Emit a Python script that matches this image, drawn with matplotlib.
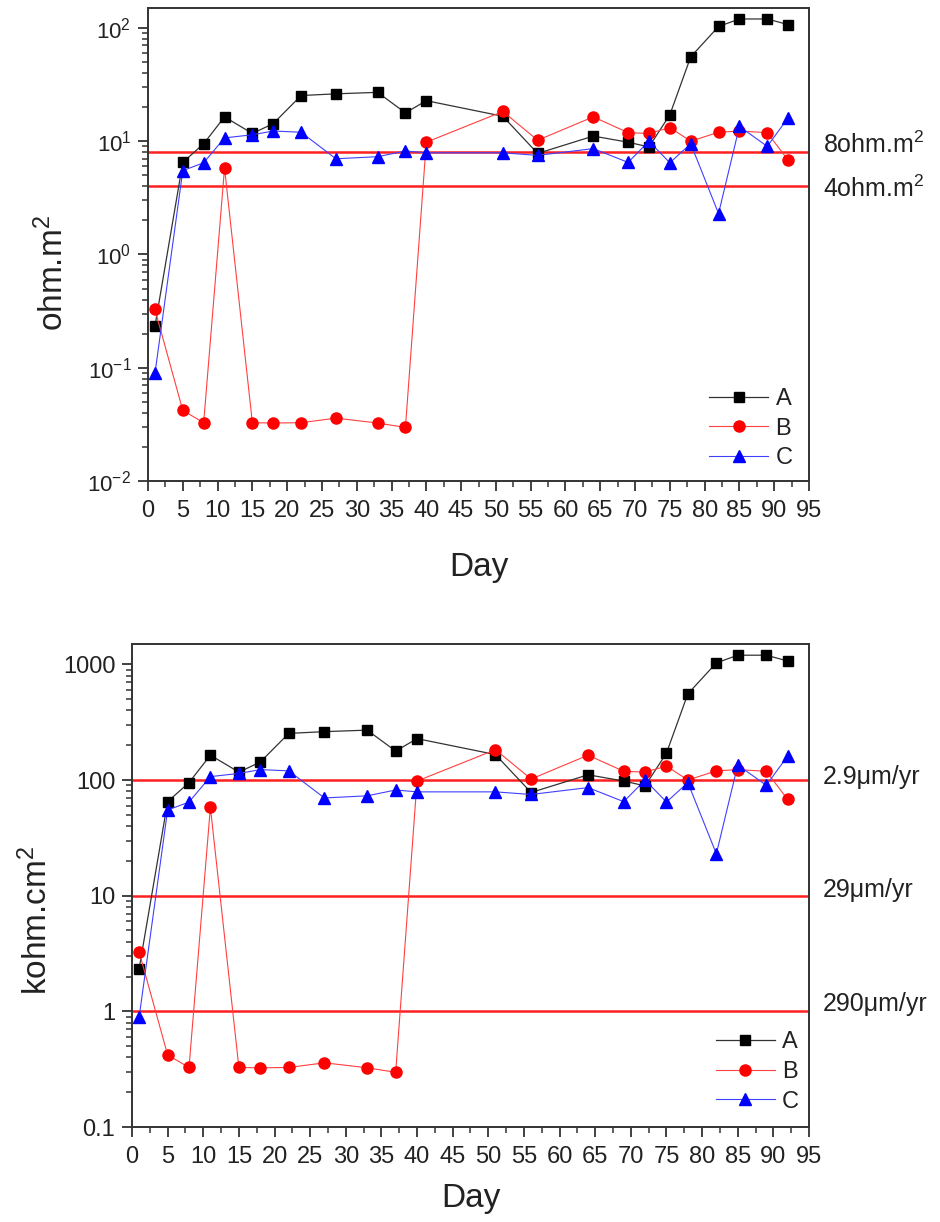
import matplotlib
matplotlib.use('Agg')
import matplotlib.pyplot as plt
from matplotlib.ticker import (LogLocator, MultipleLocator, FuncFormatter,
                               LogFormatterMathtext, NullFormatter)

plt.rcParams['font.family'] = ['Liberation Sans', 'DejaVu Sans']
plt.rcParams['mathtext.fontset'] = 'custom'
plt.rcParams['mathtext.rm'] = 'Liberation Sans'
plt.rcParams['mathtext.it'] = 'Liberation Sans:italic'
plt.rcParams['mathtext.bf'] = 'Liberation Sans:bold'
plt.rcParams['mathtext.default'] = 'regular'

# ---------------- data ----------------
days = [1, 5, 8, 11, 15, 18, 22, 27, 33, 37, 40, 51, 56, 64, 69, 72, 75, 78, 82, 85, 89, 92]

# top panel: ohm.m^2
top_A = [0.233, 6.5, 9.5, 16.4, 11.7, 14.3, 25.3, 26.2, 27.0, 17.8, 22.8,
         16.6, 7.8, 11.1, 9.8, 8.9, 17.1, 55.6, 103, 120, 120, 107]
top_B = [0.327, 0.042, 0.0327, 5.8, 0.0327, 0.0325, 0.0327, 0.0359, 0.0325, 0.0297, 9.8,
         18.3, 10.2, 16.4, 11.9, 11.7, 13.2, 10.0, 12.0, 12.3, 11.9, 6.8]
top_C = [0.089, 5.5, 6.45, 10.7, 11.4, 12.3, 12.0, 7.0, 7.3, 8.2, 7.9,
         7.9, 7.5, 8.6, 6.5, 10.0, 6.45, 9.5, 2.3, 13.5, 9.0, 16.1]
top_refs = [8, 4]
top_ref_labels = ['8ohm.m$^2$', '4ohm.m$^2$']

# bottom panel: kohm.cm^2
bot_A = [2.33, 65, 95, 164, 117, 143, 253, 262, 270, 178, 228,
         166, 78, 111, 98, 89, 171, 556, 1030, 1200, 1200, 1070]
bot_B = [3.27, 0.42, 0.327, 58, 0.327, 0.325, 0.327, 0.359, 0.325, 0.297, 98,
         183, 102, 164, 119, 117, 132, 100, 120, 123, 119, 68]
bot_C = [0.89, 55, 64.5, 107, 114, 123, 120, 70, 73, 82, 79,
         79, 75, 86, 65, 100, 64.5, 95, 23, 135, 90, 161]
bot_refs = [100, 10, 1]
bot_ref_labels = ['2.9\u03bcm/yr', '29\u03bcm/yr', '290\u03bcm/yr']

series_names = ['A', 'B', 'C']
x_ticks = list(range(0, 100, 5))

# ---------------- figure ----------------
fig = plt.figure(figsize=(9.4, 12.22), dpi=100)
ax1 = fig.add_axes([148/940, 1-481/1222, 661/940, 473/1222])
ax2 = fig.add_axes([132/940, 1-1127/1222, 677/940, 483/1222])

spine_col = '#333333'


def draw(ax, A, B, C, ylim, refs, ref_labels, ref_offsets, ylab, ylab_xy,
         xlab_y, leg_anchor, yfmt, ytick_size):
    ax.set_yscale('log')
    ax.plot(days, A, color='#333333', lw=0.9, marker='s', ms=7.2,
            mfc='black', mec='black', label=series_names[0], zorder=3)
    ax.plot(days, B, color='#ff4040', lw=0.8, marker='o', ms=8,
            mfc='#ff0000', mec='#ff0000', label=series_names[1], zorder=4)
    ax.plot(days, C, color='#4040ff', lw=0.8, marker='^', ms=8.5,
            mfc='#0000ff', mec='#0000ff', label=series_names[2], zorder=5)
    for v, lab, off in zip(refs, ref_labels, ref_offsets):
        ax.axhline(v, color='#ff2020', lw=1.8, zorder=2)
        ax.annotate(lab, xy=(1.0, v), xycoords=ax.get_yaxis_transform(),
                    xytext=(10, off), textcoords='offset points',
                    va='center', ha='left', fontsize=18, color='#222222',
                    annotation_clip=False)
    ax.set_xlim(0, 95)
    ax.set_ylim(*ylim)
    ax.xaxis.set_major_locator(MultipleLocator(5))
    ax.xaxis.set_minor_locator(MultipleLocator(2.5))
    ax.set_xticks(x_ticks)
    ax.yaxis.set_major_locator(LogLocator(base=10, numticks=20))
    ax.yaxis.set_minor_locator(LogLocator(base=10, subs=range(2, 10), numticks=50))
    ax.yaxis.set_minor_formatter(NullFormatter())
    ax.yaxis.set_major_formatter(yfmt)
    ax.tick_params(axis='both', which='major', direction='out', length=7,
                   width=1.3, color=spine_col, top=False, right=False)
    ax.tick_params(axis='both', which='minor', direction='out', length=4,
                   width=1.1, color=spine_col, top=False, right=False)
    ax.tick_params(axis='x', which='major', labelsize=17, pad=7, labelcolor='#222222')
    ax.tick_params(axis='y', which='major', labelsize=ytick_size, pad=5, labelcolor='#222222')
    for s in ax.spines.values():
        s.set_color(spine_col)
        s.set_linewidth(1.4)
    ax.set_ylabel(ylab, fontsize=24, color='#222222')
    ax.yaxis.set_label_coords(*ylab_xy)
    ax.set_xlabel('Day', fontsize=24, color='#222222')
    ax.xaxis.set_label_coords(0.5, xlab_y)
    leg = ax.legend(loc='lower right', bbox_to_anchor=leg_anchor, frameon=False,
                    fontsize=17, handlelength=2.5, handletextpad=0.3,
                    labelspacing=0.32, borderpad=0, borderaxespad=0, numpoints=1)
    for t in leg.get_texts():
        t.set_color('#222222')


draw(ax1, top_A, top_B, top_C, (0.01, 150), top_refs, top_ref_labels, [5.5, -1.5],
     'ohm.m$^2$', (-0.118, 0.44), -0.15, (0.975, 0.025),
     LogFormatterMathtext(), 16)

draw(ax2, bot_A, bot_B, bot_C, (0.1, 1500), bot_refs, bot_ref_labels, [2.5, 4, 5.5],
     'kohm.cm$^2$', (-0.115, 0.427), -0.115, (0.985, 0.03),
     FuncFormatter(lambda v, p: f'{v:g}'), 17)

fig.savefig('out.png', dpi=100)
